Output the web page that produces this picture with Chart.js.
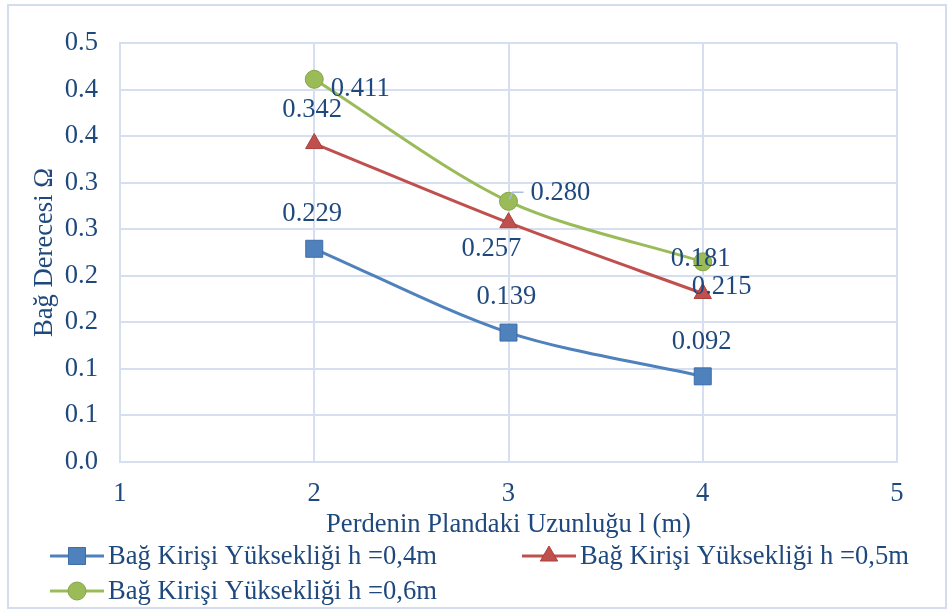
<!DOCTYPE html>
<html>
<head>
<meta charset="utf-8">
<script src="https://cdn.jsdelivr.net/npm/chart.js@4/dist/chart.umd.min.js"></script>
<style>
  html, body { margin: 0; padding: 0; background: #fff; }
</style>
</head>
<body>
<canvas id="myChart" width="948" height="610"></canvas>
<script>
// perde uzunluğu (m)
const lengths = [2, 3, 4];
// bağ derecesi, her kiriş yüksekliği için
const omegaH04 = [0.229, 0.139, 0.092];
const omegaH05 = [0.342, 0.257, 0.181];
const omegaH06 = [0.411, 0.280, 0.215];
const seriesNames = [
  'Bağ Kirişi Yüksekliği h =0,4m',
  'Bağ Kirişi Yüksekliği h =0,5m',
  'Bağ Kirişi Yüksekliği h =0,6m'
];
const yTickLabels = ['0.0', '0.1', '0.1', '0.2', '0.2', '0.3', '0.3', '0.4', '0.4', '0.5'];

const textColor = '#1f497d';
const gridColor = '#d5dff0';
const serif = "'Liberation Serif', 'Times New Roman', serif";
const fs = 26.6;

Chart.defaults.font.family = serif;
Chart.defaults.color = textColor;

function pts(ys) {
  return lengths.map((x, i) => ({ x: x, y: ys[i] }));
}

// etiketlerin noktaya göre yeri (dx, dy)
const labelOffsets = [
  [[-2, -35], [-2, -36], [-1, -34]],
  [[-2, -34], [-17, 26], [-2, -34]],
  [[46, 10], [52, -8], [19, 25]]
];

function drawMarker(ctx, style, r, x, y, fill, stroke) {
  ctx.save();
  ctx.fillStyle = fill;
  ctx.strokeStyle = stroke;
  ctx.lineWidth = 1;
  ctx.beginPath();
  if (style === 'rect') {
    const s = r * Math.SQRT1_2;
    ctx.rect(x - s, y - s, 2 * s, 2 * s);
  } else if (style === 'triangle') {
    ctx.moveTo(x, y - r);
    ctx.lineTo(x + r * 0.866, y + r * 0.5);
    ctx.lineTo(x - r * 0.866, y + r * 0.5);
    ctx.closePath();
  } else {
    ctx.arc(x, y, r, 0, Math.PI * 2);
  }
  ctx.fill();
  ctx.stroke();
  ctx.restore();
}

const frame = {
  id: 'frame',
  beforeDraw(chart) {
    const c = chart.ctx;
    c.save();
    c.fillStyle = '#fff';
    c.fillRect(0, 0, chart.width, chart.height);
    c.strokeStyle = '#d3ddee';
    c.lineWidth = 2;
    c.strokeRect(8, 5, 938, 603);
    c.restore();
  }
};

const valueLabels = {
  id: 'valueLabels',
  afterDatasetsDraw(chart) {
    const c = chart.ctx;
    c.save();
    c.font = fs + 'px ' + serif;
    c.fillStyle = textColor;
    c.textAlign = 'center';
    c.textBaseline = 'middle';
    chart.data.datasets.forEach((ds, di) => {
      chart.getDatasetMeta(di).data.forEach((p, i) => {
        const off = labelOffsets[di][i];
        if (di === 2 && i === 1) {
          // kısa kılavuz çizgisi
          c.save();
          c.strokeStyle = '#a9bfdc';
          c.lineWidth = 1.5;
          c.beginPath();
          c.moveTo(p.x + 1, p.y - 2);
          c.lineTo(p.x + 4, p.y - 9);
          c.lineTo(p.x + 15, p.y - 9);
          c.stroke();
          c.restore();
        }
        c.fillText(ds.data[i].y.toFixed(3), p.x + off[0], p.y + off[1]);
      });
    });
    c.restore();
  }
};

const legendBox = {
  id: 'legendBox',
  afterDraw(chart) {
    const c = chart.ctx;
    const spots = [[50, 556], [522, 556], [50, 591]];
    c.save();
    c.font = fs + 'px ' + serif;
    c.textBaseline = 'middle';
    c.textAlign = 'left';
    chart.data.datasets.forEach((ds, i) => {
      const [x0, y0] = spots[i];
      c.strokeStyle = ds.borderColor;
      c.lineWidth = 3;
      c.beginPath();
      c.moveTo(x0, y0);
      c.lineTo(x0 + 54, y0);
      c.stroke();
      drawMarker(c, ds.pointStyle, ds.pointRadius, x0 + 27, y0, ds.pointBackgroundColor, ds.pointBorderColor);
      c.fillStyle = textColor;
      c.fillText(ds.label, x0 + 58, y0 + 1);
    });
    c.restore();
  }
};

const ctx = document.getElementById('myChart');

new Chart(ctx, {
  type: 'line',
  data: {
    datasets: [
      {
        label: seriesNames[0],
        data: pts(omegaH04),
        borderColor: '#4f81bd',
        pointBackgroundColor: '#4f81bd',
        pointBorderColor: '#3c6da8',
        pointStyle: 'rect',
        pointRadius: 12
      },
      {
        label: seriesNames[1],
        data: pts(omegaH05),
        borderColor: '#c0504d',
        pointBackgroundColor: '#c0504d',
        pointBorderColor: '#a8403d',
        pointStyle: 'triangle',
        pointRadius: 10
      },
      {
        label: seriesNames[2],
        data: pts(omegaH06),
        borderColor: '#9bbb59',
        pointBackgroundColor: '#9bbb59',
        pointBorderColor: '#86a647',
        pointStyle: 'circle',
        pointRadius: 9
      }
    ].map(d => Object.assign({ borderWidth: 3, tension: 0.3, pointBorderWidth: 1, fill: false }, d))
  },
  options: {
    responsive: false,
    animation: false,
    layout: { padding: { left: 20, right: 51, top: 43, bottom: 69 } },
    scales: {
      x: {
        type: 'linear',
        min: 1,
        max: 5,
        ticks: { stepSize: 1, padding: 16, font: { size: fs }, color: textColor },
        grid: { color: gridColor, lineWidth: 2, drawTicks: false },
        border: { color: gridColor, width: 2 },
        title: {
          display: true,
          text: 'Perdenin Plandaki Uzunluğu l (m)',
          font: { size: fs },
          color: textColor,
          padding: { top: 0, bottom: 0 }
        },
        afterFit(scale) { scale.height = 79; }
      },
      y: {
        min: 0,
        max: 0.45,
        ticks: {
          stepSize: 0.05,
          padding: 22,
          font: { size: fs },
          color: textColor,
          callback: (v, i) => yTickLabels[i]
        },
        grid: { color: gridColor, lineWidth: 2, drawTicks: false },
        border: { color: gridColor, width: 2 },
        title: {
          display: true,
          text: 'Bağ Derecesi Ω',
          font: { size: fs },
          color: textColor,
          padding: { top: 9, bottom: 0 }
        },
        afterFit(scale) { scale.width = 100; }
      }
    },
    plugins: {
      legend: { display: false },
      tooltip: { enabled: false }
    }
  },
  plugins: [frame, valueLabels, legendBox]
});
</script>
</body>
</html>
